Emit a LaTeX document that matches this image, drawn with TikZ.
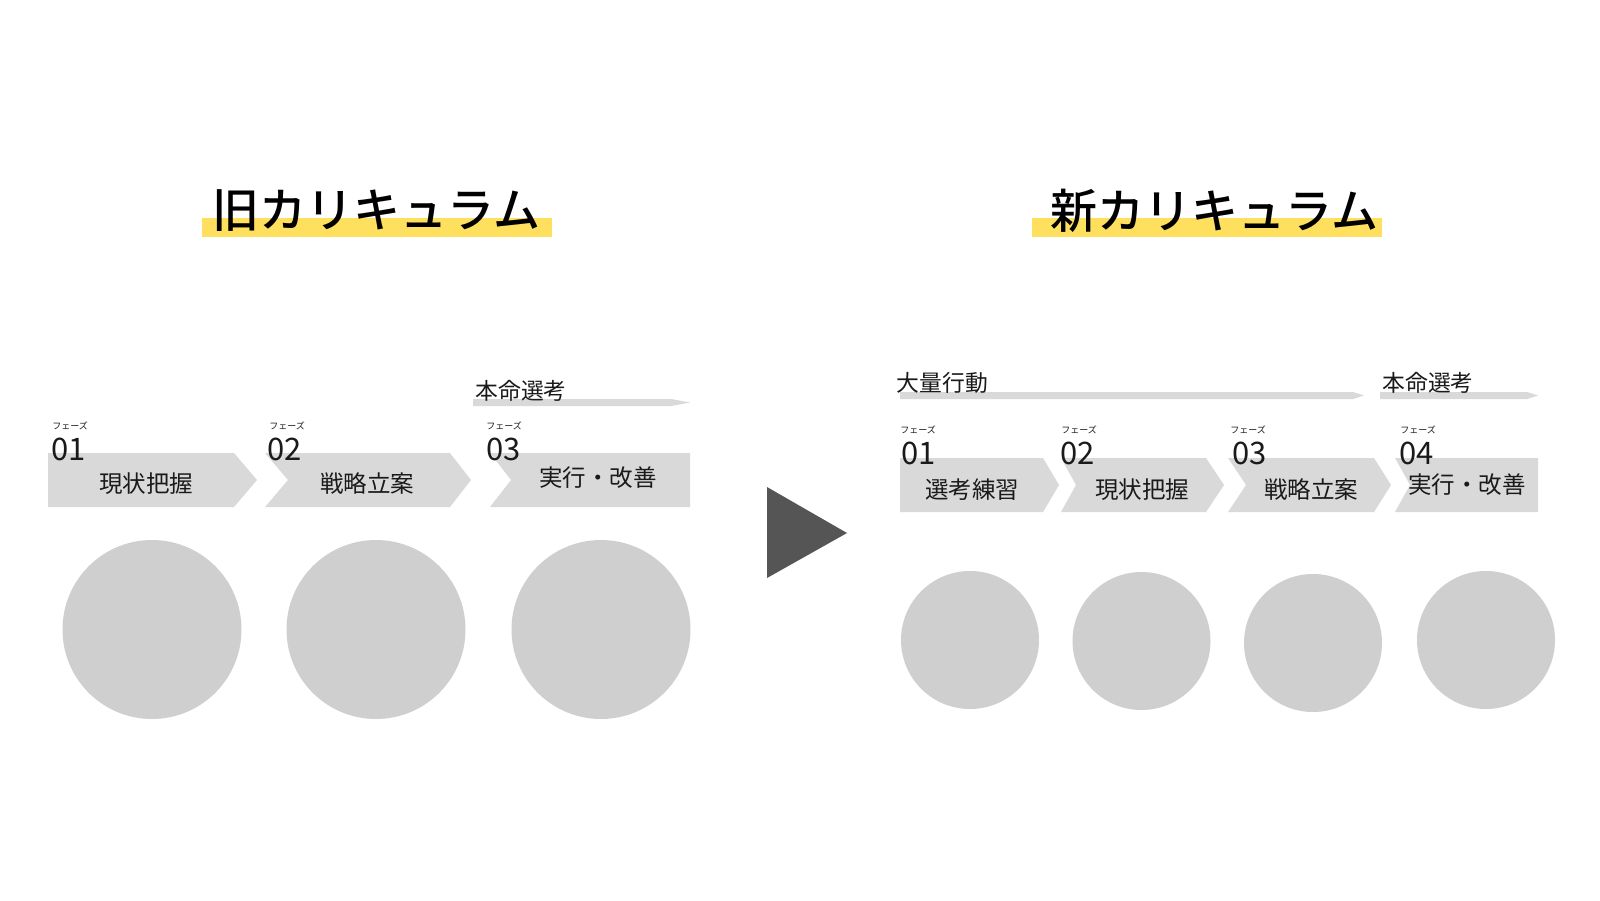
\documentclass[tikz,border=0pt]{standalone}
\usepackage{fontspec}
\newfontfamily\jp{Noto Sans CJK JP}
\newfontfamily\jpm{Noto Sans CJK JP}[UprightFont={* Medium}]
\definecolor{chevgray}{RGB}{217,217,217}
\definecolor{bargray}{RGB}{217,217,217}
\definecolor{dotgray}{RGB}{207,207,207}
\definecolor{hilite}{RGB}{255,223,94}
\definecolor{txt}{RGB}{26,26,26}
\definecolor{tri}{RGB}{85,85,85}
\begin{document}
\begin{tikzpicture}[x=0.5pt,y=-0.5pt,
  chev/.style={fill=chevgray,draw=none},
  bar/.style={fill=bargray,draw=none},
  hl/.style={fill=hilite,draw=none},
  ttl/.style={font=\jpm\fontsize{23.5}{28}\selectfont,text=black,inner sep=0},
  lbl/.style={font=\jp\fontsize{11.75}{14}\selectfont,text=txt,inner sep=0},
  barlbl/.style={font=\jp\fontsize{11.4}{14}\selectfont,text=txt,inner sep=0},
  ph/.style={font=\jp\fontsize{4.5}{5}\selectfont,text=txt,anchor=west,inner sep=0},
  num/.style={font=\jp\fontsize{15.5}{18}\selectfont,text=txt,anchor=west,inner sep=0},
  bigdot/.style={circle,fill=dotgray,draw=none,inner sep=0,minimum size=89.5pt},
  smalldot/.style={circle,fill=dotgray,draw=none,inner sep=0,minimum size=69pt}]
\useasboundingbox[fill=white] (0,0) rectangle (1600,900);

% titles
\fill[hl] (202,218) rectangle (552,237);
\fill[hl] (1032,218) rectangle (1382,237);
\node[ttl] (oldtitle) at (376.5,211) {旧カリキュラム};
\node[ttl] (newtitle) at (1214.5,211) {新カリキュラム};

% ---- left: old curriculum ----
\fill[bar] (473,399) -- (671,399) -- (690,402.5) -- (671,406) -- (473,406) -- cycle;
\node[barlbl] (lhonmei) at (521,391) {本命選考};

\fill[chev] (48,453) -- (234,453) -- (257,480) -- (234,507) -- (48,507) -- cycle;
\fill[chev] (265,453) -- (450,453) -- (471,480) -- (450,507) -- (265,507) -- (288,480) -- cycle;
\fill[chev] (490,453) -- (690,453) -- (690,507) -- (490,507) -- (511,480) -- cycle;

\node[ph] (lp1) at (52,426) {フェーズ};
\node[ph] (lp2) at (269,426) {フェーズ};
\node[ph] (lp3) at (486,426) {フェーズ};
\node[num] (ln1) at (51,449) {01};
\node[num] (ln2) at (267,449) {02};
\node[num] (ln3) at (486,449) {03};

\node[lbl] (ll1) at (146,484) {現状把握};
\node[lbl] (ll2) at (367,484) {戦略立案};
\node[lbl] (ll3) at (598,478) {実行・改善};

\node[bigdot] (lc1) at (152,629.5) {};
\node[bigdot] (lc2) at (376,629.5) {};
\node[bigdot] (lc3) at (601,629.5) {};

% arrow triangle
\fill[tri] (767,487) -- (847,533) -- (767,578) -- cycle;

% ---- right: new curriculum ----
\fill[bar] (900,392) -- (1353,392) -- (1364,395.5) -- (1353,399) -- (900,399) -- cycle;
\fill[bar] (1380,392) -- (1527,392) -- (1538,395.5) -- (1527,399) -- (1380,399) -- cycle;
\node[barlbl] (rtairyo) at (942.5,382.5) {大量行動};
\node[barlbl] (rhonmei) at (1428,382.5) {本命選考};

\fill[chev] (900,458) -- (1043,458) -- (1059,485) -- (1043,512) -- (900,512) -- cycle;
\fill[chev] (1061,458) -- (1206,458) -- (1224,485) -- (1206,512) -- (1061,512) -- (1076,485) -- cycle;
\fill[chev] (1228,458) -- (1374,458) -- (1391,485) -- (1374,512) -- (1228,512) -- (1246,485) -- cycle;
\fill[chev] (1395,458) -- (1538,458) -- (1538,512) -- (1395,512) -- (1410,485) -- cycle;

\node[ph] (rp1) at (900,430) {フェーズ};
\node[ph] (rp2) at (1061,430) {フェーズ};
\node[ph] (rp3) at (1230,430) {フェーズ};
\node[ph] (rp4) at (1400,430) {フェーズ};
\node[num] (rn1) at (901,453) {01};
\node[num] (rn2) at (1060,453) {02};
\node[num] (rn3) at (1232,453) {03};
\node[num] (rn4) at (1399,453) {04};

\node[lbl] (rl1) at (972,490) {選考練習};
\node[lbl] (rl2) at (1142,490) {現状把握};
\node[lbl] (rl3) at (1311,490) {戦略立案};
\node[lbl] (rl4) at (1467,485) {実行・改善};

\node[smalldot] (rc1) at (970,640) {};
\node[smalldot] (rc2) at (1141.5,641) {};
\node[smalldot] (rc3) at (1313,643) {};
\node[smalldot] (rc4) at (1486,640) {};
\end{tikzpicture}
\end{document}
